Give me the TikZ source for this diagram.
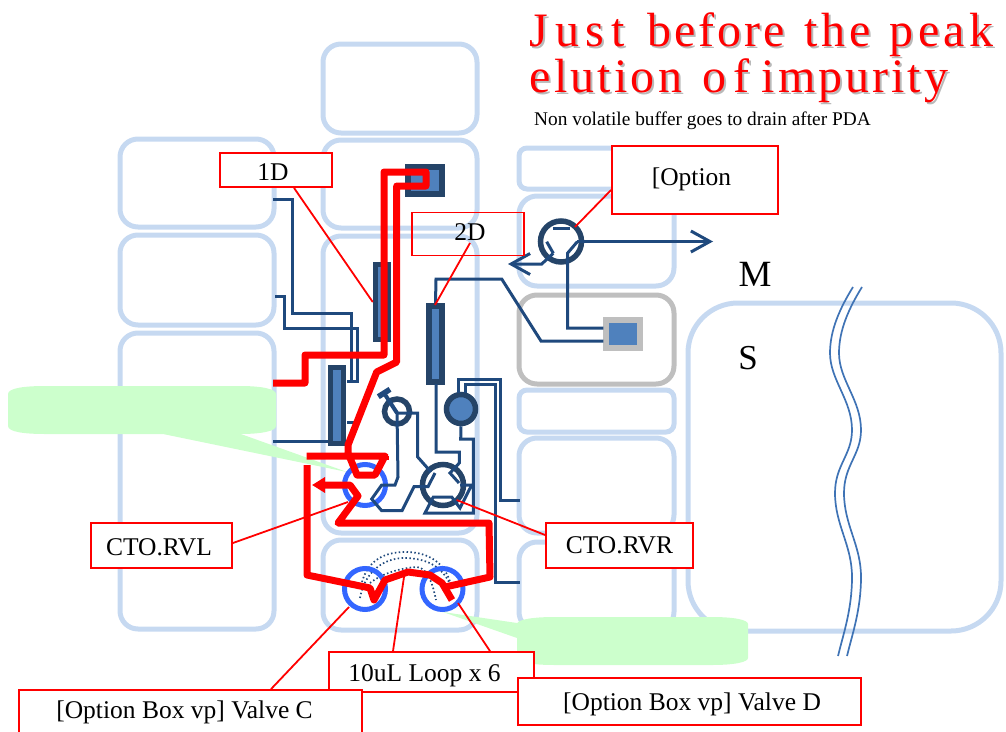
\documentclass[tikz,border=0pt]{standalone}
\usepackage{fontspec}
\setmainfont{Liberation Serif}
\newfontfamily\titlefont{Liberation Serif}
\usetikzlibrary{arrows.meta,calc}
\definecolor{panel}{HTML}{C6D9F1}
\definecolor{navy}{HTML}{1F497D}
\definecolor{deep}{HTML}{254468}
\definecolor{midblue}{HTML}{4F81BD}
\definecolor{ringblue}{HTML}{3366FF}
\definecolor{softgreen}{HTML}{CCFFCC}
\definecolor{softgray}{HTML}{BFBFBF}
\definecolor{wavecol}{HTML}{3F73B5}
\newcommand\titleword[3]{\makebox[#1pt][l]{\addfontfeature{LetterSpace=#2}#3}}
\newcommand\titlelineone{\titleword{118}{14}{Just}\titleword{157}{6}{before}\titleword{85}{8}{the}\titleword{110}{9}{peak}}
\newcommand\titlelinetwo{\titleword{173}{6.6}{elution}\titleword{59}{14}{of}\titleword{190}{6.3}{impurity}}
\tikzset{
  panelbox/.style={draw=panel,line width=5pt,rounded corners=18pt},
  graypanel/.style={draw=softgray,line width=5pt,rounded corners=18pt},
  tube/.style={draw=navy,line width=3pt,line join=miter},
  column/.style={draw=deep,fill=midblue,line width=5.5pt,inner sep=0pt,minimum width=13pt},
  valvering/.style={draw=deep,line width=5.5pt,circle,inner sep=0pt},
  bluering/.style={draw=ringblue,line width=5pt,circle,inner sep=0pt,minimum size=41pt},
  flow/.style={draw=red,line width=7pt,line join=round},
  leader/.style={draw=red,line width=1.8pt},
  labelbox/.style={draw=red,fill=white,line width=1.8pt,inner sep=0pt,font=\fontsize{25.5}{25.5}\selectfont},
  labeltext/.style={font=\fontsize{25.5}{25.5}\selectfont,inner sep=0pt,anchor=base},
  openarrow/.style={-{Straight Barb[length=19pt,width=21pt,line width=3pt]}},
  loopline/.style={draw=navy,line width=1.7pt,dash pattern=on 1.5pt off 2.4pt},
  wavy/.style={draw=wavecol,line width=1.7pt},
  titletext/.style={anchor=base west,inner sep=0pt,font=\titlefont\fontsize{48}{48}\selectfont},
}
\begin{document}
\begin{tikzpicture}[x=1pt,y=-1pt]
\useasboundingbox (0,0) rectangle (1006,731);
% panels
\draw[panelbox] (323,44) rectangle (477,133);
\draw[panelbox] (323,140) rectangle (477,228);
\draw[panelbox] (323,236) rectangle (477,533);
\draw[panelbox] (323,540) rectangle (477,630);
\draw[panelbox] (120,139) rectangle (274,227);
\draw[panelbox] (120,235) rectangle (274,325);
\draw[panelbox] (120,333) rectangle (274,629);
\draw[panelbox,rounded corners=8pt] (519,148) rectangle (674,189);
\draw[panelbox] (519,196) rectangle (674,286);
\draw[graypanel] (519,295) rectangle (674,384);
\draw[panelbox,rounded corners=8pt] (519,390) rectangle (674,432);
\draw[panelbox] (519,438) rectangle (674,533);
\draw[panelbox] (519,542) rectangle (674,630);
\draw[panelbox,rounded corners=50pt] (688,303) rectangle (1001,631);
% break mark
\draw[wavy] (853,287) .. controls (840,308) and (830,330) .. (830,353) .. controls (830,380) and (852,400) .. (852,430) .. controls (852,455) and (835,465) .. (835,493) .. controls (835,525) and (852,545) .. (852,577) .. controls (852,610) and (843,635) .. (838,656);
\draw[wavy] (862,287) .. controls (849,308) and (839,330) .. (839,353) .. controls (839,380) and (861,400) .. (861,430) .. controls (861,455) and (844,465) .. (844,493) .. controls (844,525) and (861,545) .. (861,577) .. controls (861,610) and (852,635) .. (847,656);
% green callouts
\fill[softgreen] (8,394) .. controls (8,388) and (25,386) .. (45,386) -- (240,386) .. controls (262,386) and (276,389) .. (276,394) -- (276,426) .. controls (276,431) and (262,434) .. (240,434) -- (238,433) -- (347,472) -- (163,434) -- (45,434) .. controls (25,434) and (8,432) .. (8,426) -- cycle;
\fill[softgreen] (517,624) .. controls (517,620) and (530,617) .. (555,617) -- (712,617) .. controls (735,617) and (748,620) .. (748,624) -- (748,658) .. controls (748,662) and (735,665) .. (712,665) -- (555,665) .. controls (530,665) and (517,662) .. (517,658) -- (517,638) -- (443,612) -- (517,623) -- cycle;
% dotted loop
\draw[loopline] (362,582) .. controls (368,560) and (385,552) .. (405,552) .. controls (428,552) and (445,562) .. (451,585);
\draw[loopline] (360,598) .. controls (364,575) and (380,559) .. (403,558) .. controls (425,558) and (440,565) .. (449,582);
\draw[loopline] (370,583) .. controls (380,575) and (398,568) .. (417,567) .. controls (428,568) and (433,585) .. (436,600);
% columns and fittings
\node[column,minimum height=75pt] (col1D) at (382,302) {};
\node[column,minimum height=76pt] (col2D) at (435.5,344) {};
\node[column,minimum height=76pt] (colL) at (337,405.5) {};
\node[draw=deep,fill=midblue,line width=6pt,inner sep=0pt,minimum width=34pt,minimum height=27pt] (topsq) at (425,180.5) {};
\node[draw=softgray,fill=midblue,line width=5.5pt,inner sep=0pt,minimum width=34pt,minimum height=28pt] (graysq) at (623,334) {};
\node[valvering,fill=midblue,minimum size=29pt] (pump) at (461,409) {};
\node[valvering,minimum size=25pt] (smallv) at (397,411.5) {};
\node[valvering,minimum size=41pt] (rvr) at (443,485) {};
\node[valvering,minimum size=41pt] (optv) at (561,241.5) {};
\node[bluering] (rvl) at (365,485) {};
\node[bluering] (vc) at (365,589) {};
\node[bluering] (vd) at (442.5,589) {};
% tubes
\draw[tube] (273,199) -- (292,199) -- (292,313) -- (351,313) -- (351,381) -- (347,381);
\draw[tube] (275,296) -- (284,296) -- (284,328) -- (357,328) -- (357,381) -- (347,381);
\draw[tube] (347,422) -- (356,422);
\draw[tube] (273,441.5) -- (colL.west |- 0,441.5);
\draw[tube] (397,413) -- (417.7,413) -- (417.7,457) -- (431,472);
\draw[tube] (397,413) -- (398,477) -- (395,485) -- (381.7,485) -- (371.7,499) -- (381.7,510.7) -- (402,510.7) -- (414,486.7) -- (428,486.7) -- (435,473);
\draw[tube] (436,384) -- (436,452) -- (459.3,452) -- (459.3,463) -- (450,473) -- (459,483);
\draw[tube] (pump.south) -- (460.7,439) -- (473.3,439) -- (473.3,513) -- (425,513) -- (433.3,497) -- (451.7,497) -- (460,508) -- (471.7,485) -- (460,485);
\draw[tube] (458.3,393) -- (458.3,379) -- (500,379) -- (500,500) -- (520,500);
\draw[tube] (465,393) -- (465,384) -- (495.7,384) -- (495.7,582) -- (520,582);
\draw[tube] (col2D.north) -- (436,279) -- (501.7,279) -- (541,341) -- (graysq.west |- 0,341);
\draw[tube] (546.7,241.7) -- (553.3,253.3);
\draw[tube] (553,228) -- (570,228);
\draw[tube,openarrow] (553.3,253.3) -- (541.7,264) -- (508,264);
\draw[tube,openarrow] (577,241.5) -- (713,241.5);
\draw[tube] (577.3,241.7) -- (567.7,253) -- (567.7,328) -- (graysq.west |- 0,328);
% small valve cap
\draw[draw=navy,line width=5.5pt] (378.3,396.7) -- (390,389.3);
\draw[draw=navy,line width=4pt] (384,393) -- (397,413);
% red flow
\draw[flow] (273,383) -- (305,383) -- (305,355) -- (384,355) -- (384,172) -- (426,172) -- (426,186) -- (396.7,186) -- (396.7,362) -- (376.7,372) -- (348,445) -- (348,453) -- (357,475) -- (375,475) -- (385,456) -- (306.7,456);
\draw[flow] (385,456) -- (385,460);
\draw[flow] (307,465) -- (307,575) -- (370,588) -- (374,600) -- (385,580) -- (408,572) -- (430,575) -- (442,583) -- (452,600);
\draw[flow] (445,587) -- (490,577) -- (489,523) -- (338,523) -- (358,496) -- (350,485) -- (325,485);
\draw[red,line width=6.5pt,-{Stealth[length=13pt,width=15pt,inset=0pt]}] (350,485) -- (312,485);
% labels
\node[labelbox,minimum width=112pt,minimum height=34pt] (lab1D) at (276,170) {};
\node[labeltext] (txt1D) at (273,180) {1D};
\node[draw=red,line width=1.8pt,inner sep=0pt,minimum width=112pt,minimum height=43pt] (lab2D) at (468,234) {};
\node[labeltext] (txt2D) at (470,240) {2D};
\node[labelbox,minimum width=166pt,minimum height=68pt] (labopt) at (695,180) {};
\node[labeltext] (txtopt) at (691.5,185) {[Option};
\node[labelbox,minimum width=141pt,minimum height=45pt] (labrvl) at (161.5,545.5) {};
\node[labeltext] (txtrvl) at (159,555) {CTO.RVL};
\node[labelbox,minimum width=147pt,minimum height=45pt] (labrvr) at (619.5,545.5) {CTO.RVR};
\node[labelbox,minimum width=205pt,minimum height=40pt] (labloop) at (431.5,672) {};
\node[labeltext] (txtloop) at (424.5,681) {10uL Loop x 6};
\node[labelbox,minimum width=343pt,minimum height=44pt] (labvc) at (190.5,712) {};
\node[labeltext] (txtvc) at (184.5,718) {[Option Box vp] Valve C};
\node[labelbox,minimum width=343pt,minimum height=47pt] (labvd) at (689.5,701.5) {};
\node[labeltext] (txtvd) at (692,710) {[Option Box vp] Valve D};
\draw[leader] ([xshift=18pt]lab1D.south) -- (col1D.west);
\draw[leader] ([shift={(2,9)}]lab2D.center) -- (435,305);
\draw[leader] (labopt.south west |- 0,190) -- (575,227);
\draw[leader] (labrvl.east |- 0,543) -- (348,502);
\draw[leader] (labrvr.west |- 0,535) -- (456.7,500);
\draw[leader] ([xshift=-38.5pt]labloop.north) -- (404,577);
\draw[leader] ([xshift=80.5pt]labvc.north) -- (349,607);
\draw[leader] ([xshift=58.5pt]labloop.north) -- (458,603);
\node[font=\fontsize{37}{37}\selectfont] (mlab) at (755,274) {M};
\node[font=\fontsize{35}{35}\selectfont] (slab) at (748,358) {S};
% title
\node[titletext,text=gray!55] (tsa) at (531.5,48) {\titlelineone};
\node[titletext,text=gray!55] (tsb) at (531.5,94) {\titlelinetwo};
\node[titletext,text=red] (ta) at (529.5,46.5) {\titlelineone};
\node[titletext,text=red] (tb) at (529.5,92.5) {\titlelinetwo};
\node[anchor=base west,inner sep=0pt,font=\fontsize{19.35}{19.35}\selectfont] (sub) at (534,125) {Non volatile buffer goes to drain after PDA};
\end{tikzpicture}
\end{document}
